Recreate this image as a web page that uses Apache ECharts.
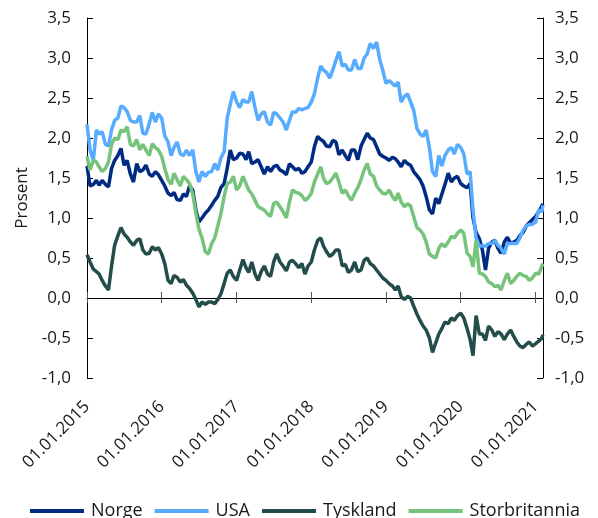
<!DOCTYPE html>
<html lang="no">
<head>
    <meta charset="UTF-8"/>
    <title>Tiårs statsrenter</title>
    <script src="https://cdn.jsdelivr.net/npm/echarts@6/dist/echarts.min.js"></script>
    <style>
        html, body { margin: 0; padding: 0; background: #fff; }
    </style>
</head>
<body>
<div id="main" style="width: 598px;height:518px;"></div>

<script type="text/javascript">
    // datoer: 1. og 16. i hver måned
    var dates = [
        '2015-01-01','2015-01-16','2015-02-01','2015-02-16','2015-03-01','2015-03-16','2015-04-01','2015-04-16','2015-05-01','2015-05-16','2015-06-01','2015-06-16',
        '2015-07-01','2015-07-16','2015-08-01','2015-08-16','2015-09-01','2015-09-16','2015-10-01','2015-10-16','2015-11-01','2015-11-16','2015-12-01','2015-12-16',
        '2016-01-01','2016-01-16','2016-02-01','2016-02-16','2016-03-01','2016-03-16','2016-04-01','2016-04-16','2016-05-01','2016-05-16','2016-06-01','2016-06-16',
        '2016-07-01','2016-07-16','2016-08-01','2016-08-16','2016-09-01','2016-09-16','2016-10-01','2016-10-16','2016-11-01','2016-11-16','2016-12-01','2016-12-16',
        '2017-01-01','2017-01-16','2017-02-01','2017-02-16','2017-03-01','2017-03-16','2017-04-01','2017-04-16','2017-05-01','2017-05-16','2017-06-01','2017-06-16',
        '2017-07-01','2017-07-16','2017-08-01','2017-08-16','2017-09-01','2017-09-16','2017-10-01','2017-10-16','2017-11-01','2017-11-16','2017-12-01','2017-12-16',
        '2018-01-01','2018-01-16','2018-02-01','2018-02-16','2018-03-01','2018-03-16','2018-04-01','2018-04-16','2018-05-01','2018-05-16','2018-06-01','2018-06-16',
        '2018-07-01','2018-07-16','2018-08-01','2018-08-16','2018-09-01','2018-09-16','2018-10-01','2018-10-16','2018-11-01','2018-11-16','2018-12-01','2018-12-16',
        '2019-01-01','2019-01-16','2019-02-01','2019-02-16','2019-03-01','2019-03-16','2019-04-01','2019-04-16','2019-05-01','2019-05-16','2019-06-01','2019-06-16',
        '2019-07-01','2019-07-16','2019-08-01','2019-08-16','2019-09-01','2019-09-16','2019-10-01','2019-10-16','2019-11-01','2019-11-16','2019-12-01','2019-12-16',
        '2020-01-01','2020-01-16','2020-02-01','2020-02-16','2020-03-01','2020-03-16','2020-04-01','2020-04-16','2020-05-01','2020-05-16','2020-06-01','2020-06-16',
        '2020-07-01','2020-07-16','2020-08-01','2020-08-16','2020-09-01','2020-09-16','2020-10-01','2020-10-16','2020-11-01','2020-11-16','2020-12-01','2020-12-16',
        '2021-01-01','2021-01-16','2021-02-01','2021-02-05'
    ];

    var norge = [
        1.65,1.40,1.42,1.47,1.41,1.47,1.42,1.39,1.62,1.72,1.78,1.87,1.66,1.72,1.55,1.45,1.68,1.58,1.60,1.66,1.55,1.52,1.58,1.54,
        1.47,1.40,1.31,1.28,1.32,1.23,1.22,1.30,1.27,1.40,1.35,1.10,0.95,1.00,1.06,1.10,1.16,1.22,1.27,1.38,1.43,1.62,1.85,1.73,
        1.75,1.81,1.80,1.73,1.83,1.68,1.70,1.73,1.64,1.55,1.64,1.58,1.64,1.66,1.60,1.58,1.54,1.68,1.64,1.60,1.62,1.56,1.58,1.64,
        1.70,1.89,2.02,1.98,1.96,1.90,1.89,1.97,1.95,1.79,1.85,1.78,1.72,1.85,1.85,1.73,1.90,1.98,2.06,2.00,1.98,1.89,1.80,1.77,
        1.75,1.72,1.76,1.74,1.70,1.64,1.72,1.68,1.66,1.58,1.53,1.48,1.40,1.27,1.10,1.05,1.25,1.18,1.30,1.42,1.56,1.45,1.50,1.52,
        1.43,1.40,1.38,1.43,1.00,0.82,0.74,0.60,0.35,0.62,0.70,0.72,0.62,0.56,0.70,0.76,0.68,0.70,0.72,0.78,0.82,0.90,0.94,0.98,
        1.02,1.08,1.15,1.18
    ];

    var usa = [
        2.17,1.85,1.72,2.10,2.05,2.08,1.92,1.90,2.10,2.22,2.25,2.40,2.38,2.33,2.22,2.20,2.20,2.28,2.06,2.05,2.18,2.32,2.20,2.30,
        2.25,2.03,1.95,1.78,1.88,1.95,1.80,1.78,1.85,1.78,1.85,1.58,1.45,1.58,1.52,1.57,1.58,1.68,1.60,1.75,1.83,2.25,2.42,2.58,
        2.45,2.38,2.48,2.45,2.45,2.58,2.38,2.22,2.30,2.33,2.20,2.16,2.32,2.30,2.25,2.20,2.10,2.22,2.33,2.32,2.37,2.35,2.37,2.38,
        2.45,2.55,2.75,2.90,2.85,2.82,2.75,2.85,2.97,3.08,2.90,2.92,2.85,2.85,2.98,2.87,2.87,3.00,3.05,3.18,3.12,3.20,2.98,2.85,
        2.68,2.72,2.68,2.65,2.70,2.45,2.52,2.55,2.45,2.35,2.12,2.05,2.02,2.10,1.88,1.58,1.52,1.78,1.65,1.78,1.85,1.88,1.80,1.92,
        1.88,1.80,1.55,1.58,1.10,0.75,0.65,0.65,0.65,0.68,0.68,0.72,0.66,0.62,0.55,0.68,0.68,0.68,0.68,0.75,0.85,0.90,0.92,0.92,
        0.95,1.10,1.08,1.16
    ];

    var tyskland = [
        0.54,0.45,0.36,0.33,0.30,0.22,0.15,0.10,0.40,0.66,0.78,0.88,0.80,0.76,0.70,0.66,0.72,0.74,0.60,0.55,0.56,0.64,0.60,0.63,
        0.55,0.43,0.22,0.18,0.28,0.26,0.20,0.23,0.16,0.12,0.06,-0.02,-0.11,-0.05,-0.08,-0.05,-0.05,-0.07,-0.02,0.05,0.18,0.31,0.35,0.27,
        0.22,0.35,0.48,0.38,0.32,0.45,0.30,0.22,0.33,0.40,0.30,0.27,0.45,0.55,0.45,0.40,0.34,0.45,0.47,0.43,0.38,0.43,0.30,0.40,
        0.45,0.60,0.72,0.75,0.65,0.58,0.52,0.55,0.60,0.60,0.40,0.42,0.32,0.35,0.45,0.33,0.35,0.47,0.50,0.43,0.40,0.35,0.30,0.25,
        0.22,0.18,0.15,0.10,0.15,0.02,-0.02,0.02,0.00,-0.10,-0.20,-0.28,-0.35,-0.40,-0.50,-0.68,-0.56,-0.45,-0.38,-0.30,-0.32,-0.25,-0.28,-0.22,
        -0.19,-0.25,-0.38,-0.52,-0.72,-0.22,-0.45,-0.45,-0.53,-0.35,-0.40,-0.48,-0.42,-0.45,-0.52,-0.45,-0.40,-0.48,-0.55,-0.60,-0.62,-0.58,-0.55,-0.60,
        -0.57,-0.54,-0.50,-0.46
    ];

    var storbritannia = [
        1.77,1.60,1.72,1.70,1.64,1.58,1.62,1.70,1.92,2.00,1.98,2.10,2.08,2.14,1.92,1.90,1.98,1.85,1.92,1.85,1.78,1.93,1.88,1.85,
        1.77,1.62,1.48,1.42,1.56,1.48,1.40,1.52,1.48,1.43,1.30,1.06,0.86,0.75,0.58,0.55,0.68,0.75,0.90,1.05,1.27,1.43,1.45,1.52,
        1.35,1.40,1.52,1.43,1.35,1.30,1.22,1.14,1.12,1.10,1.05,1.02,1.18,1.20,1.14,1.08,1.00,1.20,1.35,1.32,1.31,1.28,1.22,1.25,
        1.31,1.45,1.55,1.64,1.50,1.43,1.45,1.50,1.56,1.45,1.31,1.35,1.28,1.22,1.31,1.38,1.48,1.60,1.68,1.55,1.52,1.40,1.35,1.31,
        1.30,1.35,1.27,1.22,1.31,1.20,1.14,1.18,1.15,1.02,0.88,0.85,0.80,0.70,0.55,0.52,0.50,0.62,0.68,0.64,0.70,0.77,0.75,0.81,
        0.85,0.81,0.56,0.52,0.39,0.72,0.31,0.30,0.27,0.20,0.18,0.14,0.16,0.10,0.22,0.31,0.18,0.22,0.27,0.31,0.28,0.27,0.22,0.25,
        0.31,0.30,0.40,0.43
    ];

    var tickDates = ['2015-01-01','2016-01-01','2017-01-01','2018-01-01','2019-01-01','2020-01-01','2021-01-01'];
    var tickLabels = ['01.01.2015','01.01.2016','01.01.2017','01.01.2018','01.01.2019','01.01.2020','01.01.2021'];

    var font = "'Open Sans', 'Noto Sans', sans-serif";

    function toTime(s) {
        var p = s.split('-');
        return Date.UTC(+p[0], +p[1] - 1, +p[2]);
    }

    var tickTimes = tickDates.map(toTime);
    var xMin = toTime('2015-01-01');
    var xMax = toTime('2021-02-06');

    function pairs(arr) {
        return arr.map(function (v, i) { return [toTime(dates[i]), v]; });
    }

    function lineSerie(name, arr, color) {
        return {
            name: name,
            type: 'line',
            data: pairs(arr),
            showSymbol: false,
            symbol: 'none',
            lineStyle: { width: 3.5, color: color },
            itemStyle: { color: color }
        };
    }

    var myChart = echarts.init(document.getElementById('main'));

    var yCommon = {
        type: 'value',
        min: -1,
        max: 3.5,
        interval: 0.5,
        splitLine: { show: false },
        axisLine: { show: true, onZero: false, lineStyle: { color: '#000', width: 1 } },
        axisTick: { show: true, inside: true, length: 6, lineStyle: { color: '#000' } },
        axisLabel: {
            fontSize: 17,
            fontFamily: font,
            color: '#1a1a1a',
            formatter: function (v) { return v.toFixed(1).replace('.', ','); }
        }
    };

    var xCommon = {
        type: 'value',
        min: xMin,
        max: xMax,
        scale: true,
        position: 'bottom',
        splitLine: { show: false }
    };

    var option = {
        animation: false,
        grid: { left: 87, right: 55, top: 18, bottom: 140, containLabel: false },
        legend: {
            data: ['Norge', 'USA', 'Tyskland', 'Storbritannia'],
            left: 25,
            top: 497,
            icon: 'rect',
            itemWidth: 54,
            itemHeight: 4,
            itemGap: 12,
            textStyle: { fontSize: 18, fontFamily: font, color: '#1a1a1a', padding: [0, 0, 0, 2] }
        },
        xAxis: [
            Object.assign({}, xCommon, {
                axisLine: { show: false, onZero: false },
                axisTick: { show: false },
                axisLabel: {
                    rotate: 45,
                    margin: 26,
                    fontSize: 17,
                    fontFamily: font,
                    color: '#1a1a1a',
                    customValues: tickTimes,
                    formatter: function (v) {
                        var i = tickTimes.indexOf(v);
                        return i >= 0 ? tickLabels[i] : '';
                    }
                }
            }),
            Object.assign({}, xCommon, {
                axisLine: { show: true, onZero: true, lineStyle: { color: '#000', width: 1 } },
                axisTick: { show: true, length: 5, customValues: tickTimes, lineStyle: { color: '#555' } },
                axisLabel: { show: false }
            }),
            Object.assign({}, xCommon, {
                axisLine: { show: false, onZero: true },
                axisTick: { show: true, inside: true, length: 6, customValues: tickTimes, lineStyle: { color: '#555' } },
                axisLabel: { show: false }
            })
        ],
        yAxis: [
            Object.assign({}, yCommon, {
                position: 'left',
                name: 'Prosent',
                nameLocation: 'middle',
                nameGap: 56,
                nameRotate: 90,
                nameTextStyle: { fontSize: 17, fontFamily: font, color: '#1a1a1a' },
                axisLabel: Object.assign({}, yCommon.axisLabel, { margin: 16 })
            }),
            Object.assign({}, yCommon, {
                position: 'right',
                axisLabel: Object.assign({}, yCommon.axisLabel, { margin: 12 })
            })
        ],
        series: [
            lineSerie('Norge', norge, '#002b82'),
            lineSerie('USA', usa, '#58acff'),
            lineSerie('Tyskland', tyskland, '#234d4a'),
            lineSerie('Storbritannia', storbritannia, '#76c37c')
        ]
    };

    myChart.setOption(option);
</script>

</body>
</html>
